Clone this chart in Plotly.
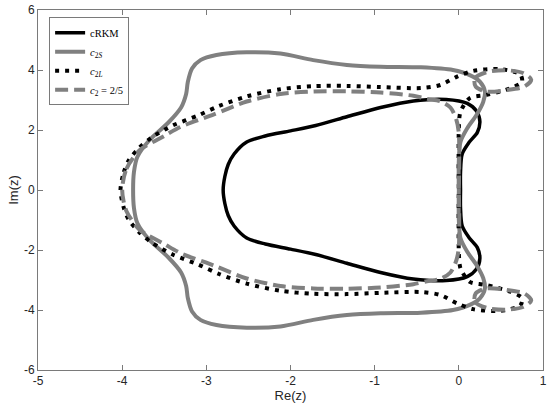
import plotly.graph_objects as go

# Contornos de estabilidade (metade superior; a metade inferior é o espelho)
crkm_re = [-2.80, -2.78, -2.74, -2.67, -2.52, -2.30, -2.00, -1.70, -1.33, -0.93, -0.54, -0.15,
           0.10, 0.21, 0.25, 0.22, 0.12, 0.04, 0.02, 0.02]
crkm_im = [0.00, 0.45, 0.85, 1.20, 1.60, 1.80, 1.97, 2.15, 2.44, 2.75, 2.97, 3.02,
           2.89, 2.63, 2.28, 1.92, 1.58, 1.20, 0.60, 0.00]

c2s_re = [-3.87, -3.86, -3.82, -3.68, -3.45, -3.30, -3.24, -3.22, -3.17, -3.07, -2.88, -2.52,
          -2.12, -1.73, -1.33, -0.93, -0.45, -0.07, 0.13, 0.25, 0.31, 0.29, 0.21, 0.10,
          0.02, 0.00, 0.00]
c2s_im = [0.00, 0.60, 1.10, 1.65, 2.25, 2.75, 3.20, 3.60, 4.05, 4.33, 4.50, 4.59,
          4.55, 4.33, 4.17, 4.11, 4.09, 4.00, 3.83, 3.61, 3.28, 2.94, 2.50, 2.06,
          1.61, 1.00, 0.00]

c2l_re = [-4.02, -3.98, -3.92, -3.80, -3.65, -3.40, -3.10, -2.85, -2.52, -2.12, -1.73, -1.33,
          -0.93, -0.45, -0.22, -0.02, 0.17, 0.49, 0.73, 0.75, 0.61, 0.33, 0.13, 0.02,
          0.00, 0.00]
c2l_im = [0.00, 0.60, 1.00, 1.40, 1.75, 2.15, 2.48, 2.80, 3.12, 3.36, 3.46, 3.47,
          3.43, 3.40, 3.50, 3.78, 3.97, 4.03, 3.85, 3.60, 3.39, 3.17, 3.06, 2.61,
          2.06, 0.00]

c25_re = [-4.00, -3.95, -3.79, -3.50, -3.31, -2.91, -2.52, -2.12, -1.73, -1.33, -0.93, -0.54,
          -0.38, -0.22, -0.10, -0.03, 0.00, 0.00]
c25_im = [0.00, 0.70, 1.33, 1.80, 2.10, 2.52, 2.95, 3.20, 3.28, 3.29, 3.25, 3.14,
          3.04, 2.96, 2.75, 2.35, 1.90, 0.00]

# laço fechado de c2 = 2/5 (parte de cima)
laco_re = [0.20, 0.19, 0.33, 0.57, 0.77, 0.86, 0.78, 0.57, 0.33, 0.20]
laco_im = [3.45, 3.72, 3.93, 3.99, 3.89, 3.68, 3.45, 3.33, 3.28, 3.45]

x_ticks = [-5, -4, -3, -2, -1, 0, 1]
x_tick_labels = ["-5", "-4", "-3", "-2", "-1", "0", "1"]
y_ticks = [-6, -4, -2, 0, 2, 4, 6]
y_tick_labels = ["-6", "-4", "-2", "0", "2", "4", "6"]


def fechar(re, im):
    # junta a metade superior com o espelho (conjugado)
    xs = list(re) + list(reversed(re))
    ys = list(im) + [-v for v in reversed(im)]
    return xs, ys


cinza = '#808080'

fig = go.Figure()

x, y = fechar(crkm_re, crkm_im)
fig.add_trace(go.Scatter(x=x, y=y, mode='lines', name='cRKM',
                         line=dict(color='black', width=3.5, shape='spline', smoothing=0.8)))

x, y = fechar(c2s_re, c2s_im)
fig.add_trace(go.Scatter(x=x, y=y, mode='lines',
                         name='<i>c</i><sub>2<i>S</i></sub>',
                         line=dict(color=cinza, width=4, shape='spline', smoothing=0.8)))

x, y = fechar(c2l_re, c2l_im)
fig.add_trace(go.Scatter(x=x, y=y, mode='lines',
                         name='<i>c</i><sub>2<i>L</i></sub>',
                         line=dict(color='black', width=4, dash='4px,6px',
                                   shape='spline', smoothing=0.8)))

x, y = fechar(c25_re, c25_im)
x = x + [None] + laco_re + [None] + laco_re
y = y + [None] + laco_im + [None] + [-v for v in laco_im]
fig.add_trace(go.Scatter(x=x, y=y, mode='lines',
                         name='<i>c</i><sub>2</sub> = 2/5',
                         line=dict(color=cinza, width=4, dash='13px,6px',
                                   shape='spline', smoothing=0.8)))

eixo = dict(showline=True, linecolor='#7a7a7a', linewidth=1, mirror='ticks',
            ticks='inside', ticklen=5, tickcolor='#7a7a7a', showgrid=False,
            zeroline=False, automargin=False,
            tickfont=dict(family='Liberation Sans', size=12, color='#262626'))

fig.update_xaxes(range=[-5, 1], tickvals=x_ticks, ticktext=x_tick_labels,
                 title=dict(text='Re(z)', standoff=2,
                            font=dict(family='Liberation Sans', size=13, color='#262626')),
                 **eixo)
fig.update_yaxes(range=[-6, 6], tickvals=y_ticks, ticktext=y_tick_labels,
                 title=dict(text='Im(z)', standoff=2,
                            font=dict(family='Liberation Sans', size=13, color='#262626')),
                 **eixo)

fig.update_layout(
    width=550, height=411,
    margin=dict(l=38, r=7, t=10, b=41),
    plot_bgcolor='white', paper_bgcolor='white',
    legend=dict(x=0.022, y=0.98, xanchor='left', yanchor='top',
                bgcolor='white', bordercolor='#7a7a7a', borderwidth=1,
                font=dict(family='Liberation Serif', size=10.5, color='black'),
                tracegroupgap=0, itemwidth=30)
)

# tira a margem padrão do <body> para a figura ficar no canto da janela
fig.write_html('out.html', config={'displayModeBar': False},
               post_script="document.body.style.margin='0';")
